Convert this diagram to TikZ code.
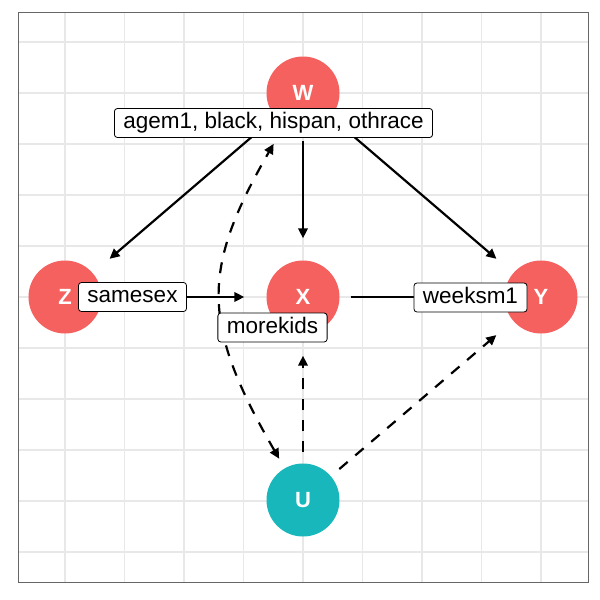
\documentclass[tikz,border=0pt]{standalone}
\usepackage{fontspec}
\setmainfont{Liberation Sans}
\usetikzlibrary{arrows.meta}
\definecolor{dagred}{RGB}{245,97,94}
\definecolor{dagteal}{RGB}{23,183,187}
\definecolor{gridgray}{RGB}{232,232,232}
\tikzset{
  var/.style={circle, minimum size=73pt, inner sep=0pt, text=white,
    font=\fontsize{22}{22}\selectfont\bfseries},
  lbl/.style={draw, fill=white, rounded corners=3pt, line width=0.8pt,
    inner xsep=9pt, inner ysep=4pt, text height=16pt, text depth=5pt,
    font=\fontsize{22.5}{22.5}\selectfont},
  edge/.style={line width=2.2pt, shorten <=11pt, shorten >=22pt},
  hidden/.style={edge, dash pattern=on 11pt off 10pt}
}
\begin{document}
\begin{tikzpicture}[x=1pt, y=-1pt, >={Triangle[length=10pt,width=9.5pt]}]
  \useasboundingbox (0,0) rectangle (600,600);
  % panel grid
  \foreach \gx in {0,...,8}
    \draw[gridgray, line width=1.2pt] ({65+59.5*\gx},12) -- ({65+59.5*\gx},582);
  \foreach \gy in {0,...,10}
    \draw[gridgray, line width=1.2pt] (18,{42+51*\gy}) -- (588,{42+51*\gy});
  \draw[black!60, line width=1pt] (18,12) rectangle (588,582);

  % variables
  \node[var, fill=dagred] (W) at (303,93) {W};
  \node[var, fill=dagred] (Z) at (65,297) {Z};
  \node[var, fill=dagred] (X) at (303,297) {X};
  \node[var, fill=dagred] (Y) at (541,297) {Y};
  \node[var, fill=dagteal] (U) at (303,500) {U};

  % edges
  \draw[edge, ->] (W) -- (Z);
  \draw[edge, ->] (W) -- (X);
  \draw[edge, ->] (W) -- (Y);
  \draw[edge, ->] (Z) -- (X);
  \draw[edge, ->] (X) -- (Y);
  \draw[hidden, ->] (U) -- (X);
  \draw[hidden, ->] (U) -- (Y);
  \draw[hidden, <->] (U) to[out=120, in=-120, looseness=1.25] (W);

  % edge labels
  \node[lbl] (agem) at (273.5,123) {agem1, black, hispan, othrace};
  \node[lbl] (samesex) at (132.5,297) {samesex};
  \node[lbl] (morekids) at (272.5,327.5) {morekids};
  \node[lbl] (weeksm) at (470.5,297.5) {weeksm1};
\end{tikzpicture}
\end{document}
